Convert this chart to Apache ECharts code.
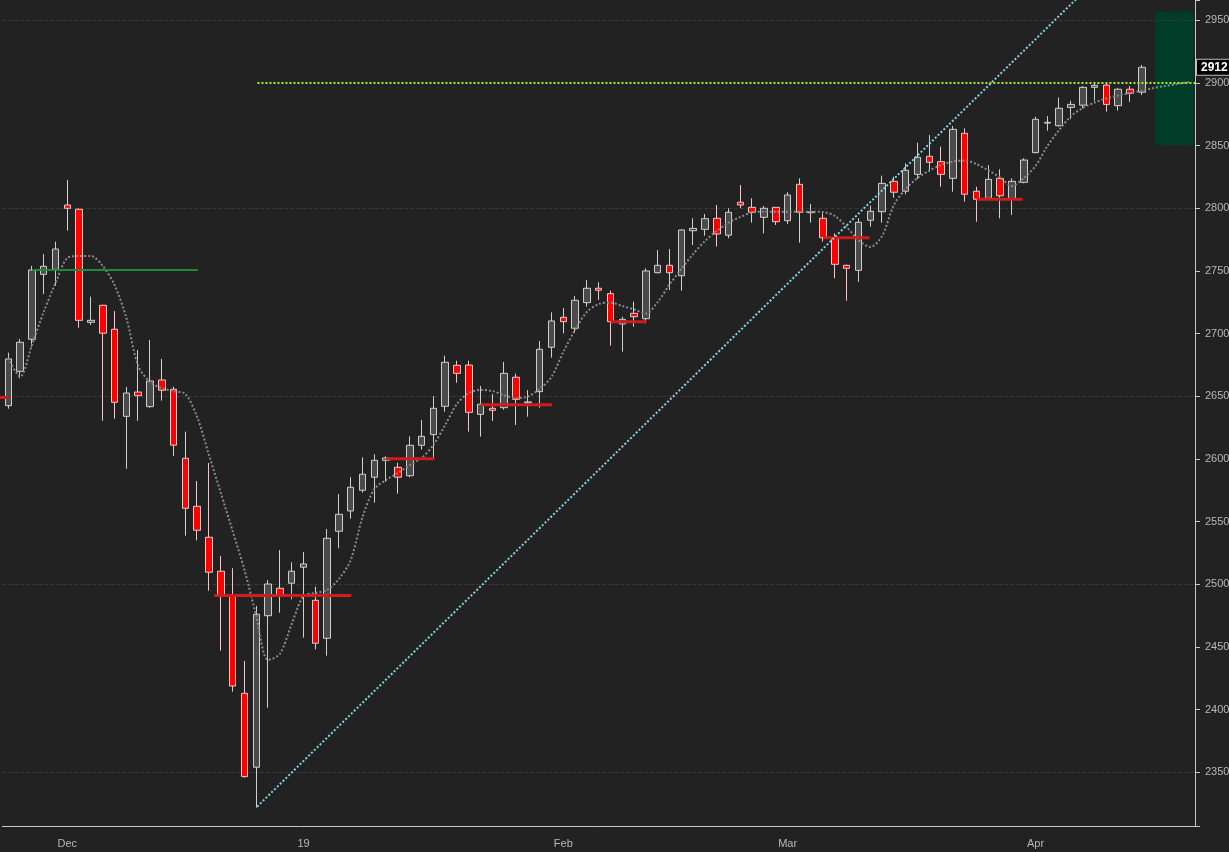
<!DOCTYPE html>
<html>
<head>
<meta charset="utf-8">
<title>Candles</title>
<script src="https://cdn.jsdelivr.net/npm/echarts@6.0.0/dist/echarts.min.js"></script>
<style>
  html, body { margin: 0; padding: 0; background: #222222; }
  #chartCandle { width: 1229px; height: 852px; }
</style>
</head>
<body>
<div id="chartCandle"></div>
<script>
// trading days shown on the axis (last four are empty slots on the right)
var dates = [
  "2018-11-26", "2018-11-27", "2018-11-28", "2018-11-29", "2018-11-30",
  "2018-12-03", "2018-12-04", "2018-12-05", "2018-12-06", "2018-12-07",
  "2018-12-10", "2018-12-11", "2018-12-12", "2018-12-13", "2018-12-14",
  "2018-12-17", "2018-12-18", "2018-12-19", "2018-12-20", "2018-12-21",
  "2018-12-24", "2018-12-26", "2018-12-27", "2018-12-28", "2018-12-31",
  "2019-01-02", "2019-01-03", "2019-01-04", "2019-01-07", "2019-01-08",
  "2019-01-09", "2019-01-10", "2019-01-11", "2019-01-14", "2019-01-15",
  "2019-01-16", "2019-01-17", "2019-01-18", "2019-01-21", "2019-01-22",
  "2019-01-23", "2019-01-24", "2019-01-25", "2019-01-28", "2019-01-29",
  "2019-01-30", "2019-01-31",
  "2019-02-01", "2019-02-04", "2019-02-05", "2019-02-06", "2019-02-07",
  "2019-02-08", "2019-02-11", "2019-02-12", "2019-02-13", "2019-02-14",
  "2019-02-15", "2019-02-19", "2019-02-20", "2019-02-21", "2019-02-22",
  "2019-02-25", "2019-02-26", "2019-02-27", "2019-02-28",
  "2019-03-01", "2019-03-04", "2019-03-05", "2019-03-06", "2019-03-07",
  "2019-03-08", "2019-03-11", "2019-03-12", "2019-03-13", "2019-03-14",
  "2019-03-15", "2019-03-18", "2019-03-19", "2019-03-20", "2019-03-21",
  "2019-03-22", "2019-03-25", "2019-03-26", "2019-03-27", "2019-03-28",
  "2019-03-29",
  "2019-04-01", "2019-04-02", "2019-04-03", "2019-04-04", "2019-04-05",
  "2019-04-08", "2019-04-09", "2019-04-10", "2019-04-11", "2019-04-12",
  "2019-04-15", "2019-04-16", "2019-04-17", "2019-04-18"
];

var opens = [
  2642.5, 2669.9, 2695.5, 2747.3, 2751.3, 2802.6, 2799.2, 2709.0, 2722.6, 2703.5,
  2634.0, 2653.4, 2641.7, 2663.0, 2655.6, 2600.5, 2562.2, 2537.5, 2510.4, 2490.7,
  2413.0, 2354.0, 2474.9, 2496.8, 2500.8, 2513.6, 2487.2, 2456.9, 2542.3, 2558.5,
  2575.0, 2585.4, 2598.9, 2593.3, 2586.6, 2610.9, 2619.4, 2642.0, 2674.7, 2674.9,
  2635.6, 2640.4, 2640.9, 2665.2, 2644.8, 2653.7, 2689.1, 2713.0, 2704.3, 2724.7,
  2736.2, 2731.9, 2707.7, 2716.2, 2711.9, 2748.6, 2754.5, 2746.2, 2782.1, 2783.2,
  2792.0, 2778.5, 2804.8, 2800.8, 2792.8, 2800.8, 2790.1, 2819.1, 2796.5, 2792.0,
  2776.5, 2754.5, 2750.5, 2790.4, 2797.3, 2821.5, 2813.6, 2827.1, 2841.5, 2837.2,
  2823.9, 2859.8, 2813.6, 2808.0, 2823.9, 2807.2, 2820.7, 2844.4, 2868.0, 2865.9,
  2880.5, 2882.3, 2896.5, 2898.3, 2881.9, 2895.0, 2892.6
];
var closes = [
  2679.8, 2693.1, 2750.8, 2753.7, 2767.5, 2800.0, 2710.6, 2710.6, 2700.3, 2645.2,
  2652.6, 2650.5, 2662.2, 2654.8, 2611.0, 2560.6, 2543.1, 2509.6, 2491.2, 2418.8,
  2346.5, 2476.1, 2500.2, 2490.9, 2510.4, 2516.2, 2452.9, 2536.7, 2555.8, 2577.4,
  2587.8, 2598.9, 2600.8, 2585.4, 2610.9, 2618.0, 2640.4, 2677.1, 2668.3, 2637.2,
  2643.6, 2638.8, 2668.3, 2647.6, 2645.5, 2687.5, 2710.1, 2709.5, 2726.6, 2736.2,
  2734.6, 2709.5, 2711.4, 2713.5, 2750.0, 2754.5, 2748.6, 2782.7, 2784.0, 2791.7,
  2779.5, 2796.8, 2802.6, 2796.8, 2800.0, 2789.3, 2810.6, 2796.8, 2797.1, 2776.5,
  2755.3, 2752.1, 2788.8, 2797.6, 2819.9, 2812.8, 2830.3, 2840.7, 2836.7, 2827.1,
  2863.0, 2811.2, 2807.2, 2823.1, 2810.0, 2821.5, 2838.5, 2871.0, 2868.6, 2879.8,
  2882.9, 2896.5, 2898.1, 2882.9, 2895.0, 2891.8, 2912.5
];
var lows = [
  2640.1, 2664.4, 2689.6, 2731.6, 2738.0, 2782.1, 2704.7, 2706.9, 2630.5, 2632.1,
  2592.2, 2630.5, 2640.9, 2646.5, 2602.5, 2538.8, 2535.0, 2494.9, 2447.0, 2414.3,
  2345.7, 2321.8, 2401.5, 2477.3, 2488.0, 2457.4, 2448.1, 2443.0, 2528.7, 2552.3,
  2573.1, 2565.1, 2581.9, 2572.3, 2585.4, 2607.4, 2600.5, 2637.7, 2660.8, 2621.8,
  2617.8, 2630.3, 2639.3, 2627.1, 2633.7, 2640.9, 2680.8, 2700.3, 2700.7, 2721.5,
  2726.8, 2690.4, 2685.6, 2705.5, 2708.2, 2748.1, 2734.8, 2734.3, 2770.7, 2778.1,
  2769.4, 2776.1, 2800.0, 2788.5, 2780.0, 2786.7, 2787.5, 2772.6, 2788.5, 2773.4,
  2744.1, 2726.3, 2741.4, 2785.3, 2788.5, 2808.5, 2811.2, 2823.4, 2829.2, 2817.2,
  2813.2, 2805.3, 2789.3, 2806.6, 2792.0, 2794.7, 2819.9, 2843.9, 2861.9, 2865.1,
  2871.2, 2879.8, 2885.8, 2877.1, 2878.0, 2885.0, 2890.4
];
var highs = [
  2684.8, 2695.7, 2754.0, 2763.5, 2773.4, 2822.6, 2800.0, 2729.5, 2723.0, 2718.0,
  2657.4, 2686.9, 2694.9, 2679.8, 2657.7, 2621.8, 2582.4, 2596.8, 2522.6, 2512.8,
  2438.8, 2482.7, 2503.4, 2527.3, 2517.5, 2525.8, 2498.1, 2544.1, 2572.0, 2585.4,
  2601.3, 2603.7, 2602.1, 2597.0, 2618.0, 2631.1, 2650.2, 2682.4, 2678.4, 2678.4,
  2658.2, 2651.8, 2677.4, 2668.0, 2655.0, 2694.1, 2717.0, 2720.4, 2730.0, 2742.8,
  2741.0, 2734.3, 2713.5, 2725.5, 2752.1, 2766.7, 2767.5, 2783.2, 2792.0, 2795.5,
  2802.6, 2800.0, 2818.6, 2808.0, 2801.8, 2801.0, 2812.8, 2823.9, 2803.4, 2796.0,
  2780.0, 2755.0, 2792.0, 2802.1, 2826.0, 2825.2, 2835.9, 2852.3, 2858.5, 2849.2,
  2865.7, 2863.8, 2817.2, 2834.5, 2831.1, 2823.9, 2839.9, 2873.1, 2873.6, 2888.5,
  2885.8, 2897.5, 2899.7, 2899.7, 2895.8, 2897.5, 2914.4
];

// dotted moving average (runs into the empty slots)
var maValues = [
  2680.6, 2665.6, 2690.9, 2717.3, 2740.4, 2760.3, 2761.9, 2761.9, 2754.0, 2738.7,
  2712.5, 2674.2, 2661.4, 2656.4, 2654.2, 2651.8, 2633.3, 2603.0, 2572.8, 2542.4,
  2511.4, 2474.6, 2439.6, 2444.4, 2468.3, 2490.6, 2493.0, 2495.4, 2504.2, 2519.4,
  2553.7, 2576.0, 2583.2, 2588.8, 2595.2, 2600.8, 2611.1, 2627.1, 2643.9, 2652.6,
  2655.0, 2654.2, 2650.6, 2648.6, 2649.8, 2655.8, 2665.4, 2685.3, 2702.9, 2717.3,
  2723.6, 2724.7, 2722.0, 2719.3, 2716.1, 2725.2, 2739.2, 2751.6, 2763.5, 2773.9,
  2781.9, 2788.5, 2793.1, 2796.6, 2797.3, 2797.3, 2797.3, 2797.3, 2797.3, 2797.0,
  2793.9, 2785.1, 2774.7, 2769.1, 2777.9, 2802.6, 2815.4, 2824.2, 2830.2, 2834.5,
  2837.3, 2838.1, 2835.3, 2830.2, 2824.6, 2817.8, 2824.2, 2833.8, 2849.7, 2862.5,
  2873.6, 2880.0, 2884.4, 2887.6, 2890.0, 2892.0, 2894.0, 2896.0, 2897.6, 2899.2,
  2900.8
];

// drawn levels: [from bar, to bar, price]
var redLevels = [
  [-1, 0, 2649.0],
  [17.45, 29.05, 2491.0],
  [32, 36.1, 2600.2],
  [40, 46.05, 2643.3],
  [51, 54.05, 2709.5],
  [69, 72.95, 2776.5],
  [82, 85.9, 2807.2]
];
var greenLevel = [2, 16.05, 2750.8];
var targetLevel = [21.1, 100.5, 2900];
var trendLine = [[21.07, 2322.5], [100.5, 3060.4]];
var zoneBox = [97.1, 100.35, 2957.0, 2850.5];
var gridLevels = [2350, 2500, 2650, 2800, 2950];
var lastPrice = 2912;

var monthNames = ["Jan", "Feb", "Mar", "Apr", "May", "Jun", "Jul", "Aug", "Sep", "Oct", "Nov", "Dec"];

function isMonthStart(index) {
  if (index === 0) return false;
  return dates[index].slice(0, 7) !== dates[index - 1].slice(0, 7);
}

function InitCandle() {
  var myChart = echarts.init(document.getElementById("chartCandle"));

  var candleData = dates.map(function (d, i) {
    return i < opens.length ? [opens[i], closes[i], lows[i], highs[i]] : "-";
  });

  // annotation lines live on a hidden value x axis aligned with the bar centres
  var annotationSeries = redLevels.map(function (lv) {
    return {
      type: "line",
      xAxisIndex: 1,
      symbol: "none",
      silent: true,
      z: 4,
      lineStyle: { color: "#d01c1c", width: 3 },
      data: [[lv[0], lv[2]], [lv[1], lv[2]]],
    };
  });

  annotationSeries.push({
    type: "line",
    xAxisIndex: 1,
    symbol: "none",
    silent: true,
    z: 4,
    lineStyle: { color: "#1e8a3c", width: 2 },
    data: [[greenLevel[0], greenLevel[2]], [greenLevel[1], greenLevel[2]]],
  });

  annotationSeries.push({
    type: "line",
    xAxisIndex: 1,
    symbol: "none",
    silent: true,
    z: 5,
    lineStyle: { color: "#a6f035", width: 2, type: "dotted" },
    data: [[targetLevel[0], targetLevel[2]], [targetLevel[1], targetLevel[2]]],
    markArea: {
      silent: true,
      itemStyle: { color: "#003d29" },
      data: [[{ coord: [zoneBox[0], zoneBox[2]] }, { coord: [zoneBox[1], zoneBox[3]] }]],
    },
  });

  annotationSeries.push({
    type: "line",
    xAxisIndex: 1,
    symbol: "none",
    silent: true,
    z: 5,
    lineStyle: { color: "#86cfe6", width: 2, type: "dotted" },
    data: trendLine,
  });

  var option = {
    animation: false,
    backgroundColor: "#222222",
    textStyle: { fontFamily: "Liberation Sans, Arial, sans-serif" },
    grid: { left: 2.4, right: 34, top: 0, bottom: 26, outerBoundsMode: "none", containLabel: false },
    xAxis: [
      {
        type: "category",
        data: dates,
        boundaryGap: true,
        axisLine: { lineStyle: { color: "#c8c8c8", width: 1 } },
        axisTick: {
          alignWithLabel: true,
          length: 5,
          interval: function (index) { return isMonthStart(index); },
          lineStyle: { color: "#c8c8c8" },
        },
        axisLabel: {
          interval: function (index) { return isMonthStart(index); },
          formatter: function (value) {
            var m = parseInt(value.slice(5, 7), 10) - 1;
            return m === 0 ? value.slice(2, 4) : monthNames[m];
          },
          color: "#b8b8b8",
          fontSize: 11,
          margin: 12,
        },
        splitLine: { show: false },
      },
      {
        type: "value",
        min: -0.5,
        max: dates.length - 0.5,
        show: false,
      },
    ],
    yAxis: {
      type: "value",
      position: "right",
      min: 2307.1,
      max: 2966.2,
      splitNumber: 13,
      axisLine: { show: true, onZero: false, lineStyle: { color: "#c8c8c8", width: 1 } },
      axisTick: { show: true, length: 5, lineStyle: { color: "#c8c8c8" } },
      axisLabel: {
        color: "#b8b8b8",
        fontSize: 11,
        margin: 10,
        formatter: function (v) {
          return Math.abs(v % 50) < 0.001 ? String(Math.round(v)) : "";
        },
      },
      splitLine: { show: false },
    },
    series: [
      {
        name: "Price",
        type: "candlestick",
        data: candleData,
        barWidth: 7,
        z: 3,
        itemStyle: {
          color: "#4b4b4b",
          color0: "#ff0000",
          borderColor: "#cfcfcf",
          borderColor0: "#ecc8c8",
          borderWidth: 1,
        },
        markLine: {
          silent: true,
          symbol: "none",
          lineStyle: { color: "rgba(0,0,0,0)", width: 0 },
          label: {
            show: true,
            position: "end",
            distance: 2,
            formatter: String(lastPrice),
            color: "#ffffff",
            fontWeight: "bold",
            fontSize: 12,
            backgroundColor: "#000000",
            borderColor: "#bdbdbd",
            borderWidth: 1,
            padding: [2, 3, 1, 4],
          },
          data: [{ yAxis: 2912.5 }],
        },
      },
      {
        name: "MA",
        type: "line",
        data: maValues,
        smooth: 0.3,
        symbol: "none",
        silent: true,
        z: 4,
        lineStyle: { color: "#8a8a8a", width: 2, type: "dotted" },
        markLine: {
          silent: true,
          symbol: "none",
          label: { show: false },
          lineStyle: { color: "#393939", width: 1, type: "dashed" },
          data: gridLevels.map(function (g) { return { yAxis: g }; }),
          z: 1,
        },
      },
    ].concat(annotationSeries),
  };
  myChart.setOption(option);
}

InitCandle();
</script>
</body>
</html>
